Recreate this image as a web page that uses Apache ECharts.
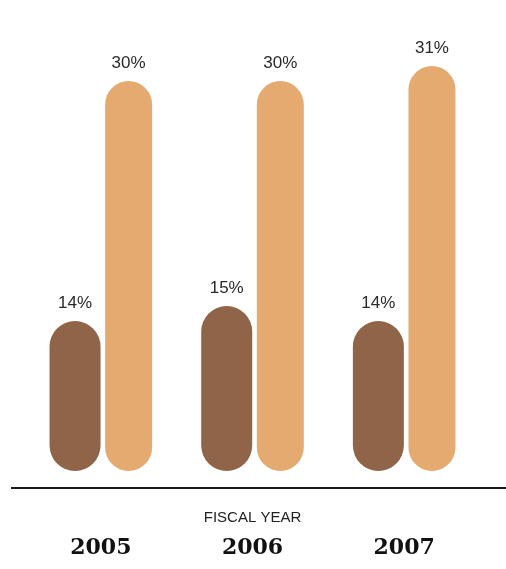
<!DOCTYPE html>
<html>
<head>
<meta charset="utf-8">
<script src="https://cdn.jsdelivr.net/npm/echarts@6/dist/echarts.min.js"></script>
<style>html,body{margin:0;padding:0;background:#fff}#c{width:506px;height:569px}</style>
</head>
<body>
<div id="c"></div>
<script>
const years = ['2005', '2006', '2007'];
const darkValues = [14, 15, 14];
const lightValues = [30, 30, 31];
const axisTitle = 'FISCAL YEAR';

const chart = echarts.init(document.getElementById('c'), null, {renderer: 'canvas'});
const labelStyle = {
  show: true, position: 'top', distance: 9,
  formatter: p => p.value + '%',
  fontFamily: 'Liberation Sans, Arial, sans-serif', fontSize: 17, color: '#2a2a2a'
};
chart.setOption({
  animation: false,
  backgroundColor: '#fff',
  grid: {left: 25, right: 26, top: 6, bottom: 98, outerBoundsMode: 'none', containLabel: false},
  xAxis: {
    type: 'category', data: years,
    axisLine: {show: false}, axisTick: {show: false},
    axisLabel: {
      margin: 66, fontFamily: 'DejaVu Serif, serif', fontWeight: 'bold',
      fontSize: 22, color: '#111'
    },
    name: axisTitle, nameLocation: 'middle', nameGap: 39, nameMoveOverlap: false,
    nameTextStyle: {fontFamily: 'Liberation Sans, Arial, sans-serif', fontSize: 15, color: '#222'}
  },
  yAxis: {type: 'value', min: 4, max: 35, show: false, splitLine: {show: false}},
  series: [
    {type: 'bar', data: darkValues, barWidth: 51, barGap: '9%',
     itemStyle: {color: '#8f6448', borderRadius: 25.5}, label: labelStyle},
    {type: 'bar', data: lightValues, barWidth: 47,
     itemStyle: {color: '#e4aa6f', borderRadius: 23.5}, label: labelStyle}
  ],
  graphic: [{
    type: 'line', shape: {x1: 11, y1: 488, x2: 506, y2: 488},
    style: {stroke: '#1a1a1a', lineWidth: 2}
  }]
});
</script>
</body>
</html>
